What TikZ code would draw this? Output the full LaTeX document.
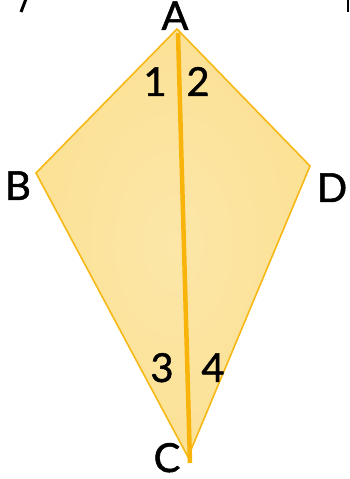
\documentclass[tikz,border=0pt]{standalone}
\usepackage{fontspec}
\setmainfont{Lato}
\newfontfamily\lblfont{Lato}[FakeBold=1.2]
\definecolor{kitefill}{RGB}{252,226,150}
\definecolor{kiteedge}{RGB}{246,184,20}
\definecolor{diag}{RGB}{248,180,10}
\tikzset{
  lbl/.style={anchor=base, inner sep=0pt, font=\lblfont\fontsize{40}{40}\selectfont, text=black},
  edge/.style={draw=kiteedge, line width=1.6pt, line join=miter},
}
\begin{document}
\begin{tikzpicture}[x=1pt,y=1pt]
\useasboundingbox (0,0) rectangle (349,479);
\coordinate (A) at (177,450);
\coordinate (B) at (36,306);
\coordinate (D) at (310,313);
\coordinate (C) at (188,22);
\coordinate (a1) at (178,446);
\coordinate (c1) at (190,16);
\fill[kitefill] (A) -- (B) -- (C) -- (D) -- cycle;
\shade[inner color=white, outer color=kitefill, opacity=0.18] (A) -- (B) -- (C) -- (D) -- cycle;
\draw[edge] (A) -- (B) -- (C) -- (D) -- cycle;
\draw[diag, line width=4.5pt] (a1) -- (c1);
\node[lbl] (la) at (175,449) {A};
\node[lbl] (lb) at (18,279) {B};
\node[lbl] (ld) at (332,277) {D};
\node[lbl] (lc) at (167,7) {C};
\node[lbl] (n1) at (155,383) {1};
\node[lbl] (n2) at (198,383) {2};
\node[lbl] (n3) at (162,97) {3};
\node[lbl] (n4) at (213,97) {4};
\coordinate (s1) at (26,480);
\coordinate (s2) at (21,467);
\draw[line width=3pt, black] (s1) -- (s2);
\coordinate (t1) at (347.5,480);
\coordinate (t2) at (347.5,467);
\draw[line width=2pt, black] (t1) -- (t2);
\end{tikzpicture}
\end{document}
